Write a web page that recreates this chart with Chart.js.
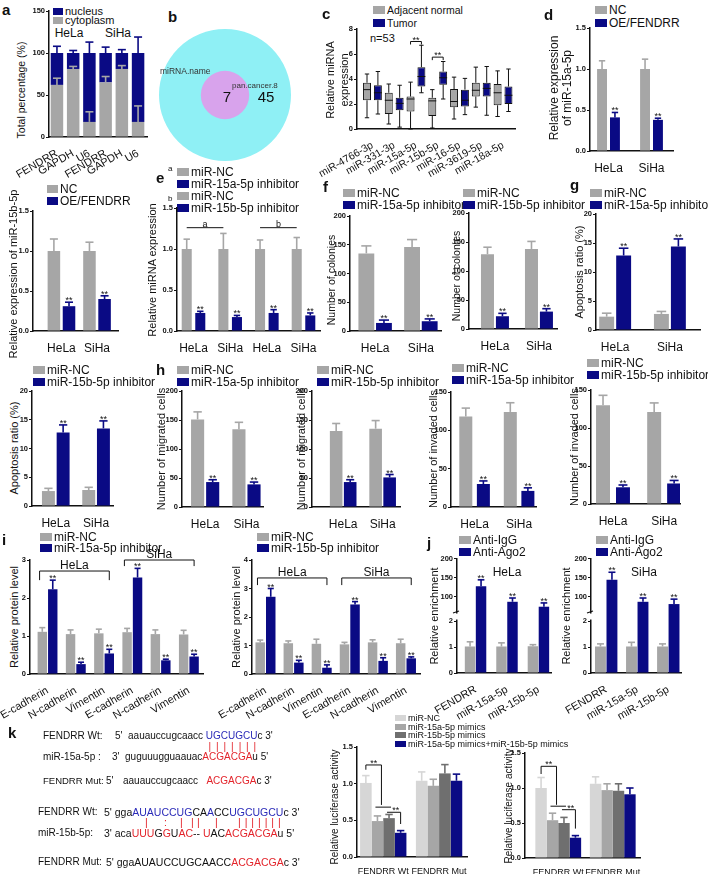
<!DOCTYPE html>
<html>
<head>
<meta charset="utf-8">
<script src="https://cdn.jsdelivr.net/npm/chart.js@4.4.1/dist/chart.umd.min.js"></script>
<style>
  html, body { margin: 0; padding: 0; background: #fff; }
  body { position: relative; width: 708px; height: 874px; overflow: hidden; font-family: 'Liberation Sans', Arial, sans-serif; color: #111; }
  canvas { position: absolute; }
  .t { position: absolute; white-space: nowrap; line-height: 1; }
  .lg { position: absolute; white-space: nowrap; display: flex; align-items: center; }
  .lg i { display: inline-block; margin-right: 2px; }
  .yt { position: absolute; white-space: nowrap; text-align: center; transform: translate(-50%, -50%) rotate(-90deg); }
  .pl { position: absolute; font-weight: bold; font-size: 15px; line-height: 1; }
  .b { color: #2a2ab8; }
  .r { color: #e3242b; }
</style>
</head>
<body>
<script>
// ---------- data ----------
// a: nuclear / cytoplasmic fractions
const aCats = ['FENDRR', 'GAPDH', 'U6', 'FENDRR', 'GAPDH', 'U6'];
const aCyto = [62, 81, 18, 65, 81, 18];
const aCytoErr = [8, 3, 12, 7, 4, 19];
const aNuc = [38, 19, 82, 35, 19, 82];
const aNucErr = [8, 3, 13, 7, 4, 19];

// b: venn counts (only miRNA.name, shared with pan.cancer.8)
const bSets = ['miRNA.name', 'pan.cancer.8'];
const bCounts = [45, 7];

// c: boxplots, n=53
const cCats = ['miR-4766-3p', 'miR-331-3p', 'miR-15a-5p', 'miR-15b-5p', 'miR-16-5p', 'miR-3619-5p', 'miR-18a-5p'];
const cNormMin = [0.9, 0.4, 0.0, 0.08, 0.8, 1.75, 1.0];
const cNormQ1 = [2.3, 1.2, 1.4, 1.05, 1.75, 2.6, 1.9];
const cNormMed = [3.15, 2.3, 2.4, 2.25, 2.2, 3.1, 2.9];
const cNormQ3 = [3.7, 2.9, 2.6, 2.5, 3.2, 3.7, 3.6];
const cNormMax = [4.4, 3.6, 3.75, 3.15, 4.15, 4.95, 4.65];
const cTumMin = [1.2, 0.15, 2.9, 2.4, 1.15, 1.1, 1.4];
const cTumQ1 = [2.3, 1.5, 3.4, 3.55, 1.8, 2.6, 2.0];
const cTumMed = [2.9, 2.05, 4.2, 4.1, 2.3, 3.25, 2.7];
const cTumQ3 = [3.5, 2.5, 4.95, 4.6, 3.15, 3.7, 3.4];
const cTumMax = [4.6, 3.5, 6.7, 5.4, 4.05, 5.0, 4.8];
const cSig = [[2, 7.0], [3, 5.75]];

const cellCats = ['HeLa', 'SiHa'];
// d: miR-15a-5p after FENDRR overexpression
const dNC = [1.0, 1.0], dNCErr = [0.1, 0.12];
const dOE = [0.41, 0.38], dOEErr = [0.06, 0.02];
// d (second): miR-15b-5p
const d2NC = [1.0, 1.0], d2NCErr = [0.15, 0.11];
const d2OE = [0.31, 0.4], d2OEErr = [0.05, 0.04];

// e
const eCats = ['HeLa', 'SiHa', 'HeLa', 'SiHa'];
const eNC = [1.0, 1.0, 1.0, 1.0], eNCErr = [0.12, 0.19, 0.11, 0.14];
const eInh = [0.22, 0.17, 0.22, 0.19], eInhErr = [0.02, 0.02, 0.04, 0.03];
const eMarks = [['a', 0, 1], ['b', 2, 3]];

// f: colonies
const f1NC = [135, 146], f1NCErr = [13, 13];
const f1Inh = [14, 17], f1InhErr = [5, 4];
const f2NC = [129, 138], f2NCErr = [12, 13];
const f2Inh = [22, 30], f2InhErr = [5, 5];

// g: apoptosis
const g1NC = [2.3, 2.77], g1NCErr = [0.6, 0.43];
const g1Inh = [12.85, 14.4], g1InhErr = [1.25, 1.3];
const g2NC = [2.6, 2.78], g2NCErr = [0.47, 0.47];
const g2Inh = [12.8, 13.5], g2InhErr = [1.3, 1.3];

// h: migration / invasion
const h1NC = [151, 134], h1NCErr = [13, 12];
const h1Inh = [43, 39], h1InhErr = [4, 4];
const h2NC = [131, 135], h2NCErr = [13, 14];
const h2Inh = [43, 51], h2InhErr = [4, 5];
const h3NC = [118, 124], h3NCErr = [11, 12];
const h3Inh = [30, 21], h3InhErr = [4, 4];
const h4NC = [130, 121], h4NCErr = [13, 12];
const h4Inh = [22, 27], h4InhErr = [3, 4];

// i: EMT markers
const iCats = ['E-cadherin', 'N-cadherin', 'Vimentin', 'E-cadherin', 'N-cadherin', 'Vimentin'];
const i1NC = [1.11, 1.05, 1.07, 1.1, 1.05, 1.04], i1NCErr = [0.11, 0.11, 0.11, 0.1, 0.11, 0.11];
const i1Inh = [2.23, 0.26, 0.54, 2.54, 0.36, 0.46], i1InhErr = [0.24, 0.05, 0.11, 0.24, 0.03, 0.06];
const i2NC = [1.11, 1.08, 1.06, 1.04, 1.11, 1.08], i2NCErr = [0.08, 0.08, 0.16, 0.07, 0.09, 0.14];
const i2Inh = [2.71, 0.4, 0.22, 2.44, 0.46, 0.55], i2InhErr = [0.29, 0.08, 0.1, 0.1, 0.11, 0.05];
const iBr1 = [{ name: 'HeLa', from: 0, to: 2, y: 2.71, drop: 2.47 }, { name: 'SiHa', from: 3, to: 5, y: 3.0, drop: 2.84 }];
const iBr2 = [{ name: 'HeLa', from: 0, to: 2, y: 3.37, drop: 3.12 }, { name: 'SiHa', from: 3, to: 5, y: 3.37, drop: 3.12 }];

// j: RIP
const jCats = ['FENDRR', 'miR-15a-5p', 'miR-15b-5p'];
const jTicks = [0, 1, 2, 100, 150, 200];
const j1IgG = [1.02, 1.02, 1.03], j1IgGErr = [0.18, 0.14, 0.06];
const j1Ago = [128, 87, 74], j1AgoErr = [17, 10, 10];
const j2IgG = [1.02, 1.02, 1.02], j2IgGErr = [0.1, 0.16, 0.1];
const j2Ago = [145, 87, 81], j2AgoErr = [20, 10, 13];

// k: luciferase
const kCats = ['FENDRR Wt', 'FENDRR Mut'];
const k1NC = [1.01, 1.04], k1NCErr = [0.1, 0.12];
const k1A = [0.49, 0.97], k1AErr = [0.07, 0.09];
const k1B = [0.53, 1.14], k1BErr = [0.05, 0.12];
const k1AB = [0.33, 1.04], k1ABErr = [0.03, 0.09];
const k2NC = [1.0, 1.06], k2NCErr = [0.15, 0.1];
const k2A = [0.54, 0.97], k2AErr = [0.1, 0.09];
const k2B = [0.5, 0.96], k2BErr = [0.08, 0.1];
const k2AB = [0.29, 0.91], k2ABErr = [0.03, 0.09];

// ---------- style ----------
const FONT = "'Liberation Sans', Arial, sans-serif";
const NAVY = '#0a0a84', GRAY = '#a6a6a6', LGRAY = '#d6d6d6', DGRAY = '#6f6f6f';
const BRK = { lo: 2, hi: 60, frac: 0.456, gap: 9 };   // broken axis in j
Chart.defaults.font.family = FONT;
Chart.defaults.color = '#111';

// ---------- html helpers ----------
function el(cls, css, html) {
  const d = document.createElement('div');
  d.className = cls;
  Object.assign(d.style, css);
  d.innerHTML = html;
  document.body.appendChild(d);
  return d;
}
function text(x, y, html, fs, css) {
  return el('t', Object.assign({ left: x + 'px', top: (y - fs / 2) + 'px', fontSize: fs + 'px' }, css || {}), html);
}
function ctext(x, y, html, fs) {
  return el('t', { left: x + 'px', top: y + 'px', fontSize: fs + 'px', transform: 'translate(-50%,-50%)' }, html);
}
function ytitle(x, y, html, fs, lh) {
  el('yt', { left: x + 'px', top: y + 'px', fontSize: fs + 'px', lineHeight: String(lh || 1.15) }, html);
}
function legend(x, y, items, fs, lh, sw, sh) {
  fs = fs || 12; lh = lh || 11.5; sw = sw || 12; sh = sh || 8;
  items.forEach(([label, color], k) => {
    el('lg', { left: x + 'px', top: (y + k * lh - lh / 2) + 'px', height: lh + 'px', fontSize: fs + 'px' },
      `<i style="width:${sw}px;height:${sh}px;background:${color}"></i>${label}`);
  });
}
function letter(x, y, s) { el('pl', { left: x + 'px', top: y + 'px' }, s); }

// ---------- canvas helpers ----------
function path(ctx, pts, color, w) {
  ctx.save();
  ctx.strokeStyle = color || '#111';
  ctx.lineWidth = w || 1;
  ctx.beginPath();
  pts.forEach(([x, y], i) => i ? ctx.lineTo(x, y) : ctx.moveTo(x, y));
  ctx.stroke();
  ctx.restore();
}
function label(ctx, s, x, y, fs, base) {
  ctx.save();
  ctx.fillStyle = '#111';
  ctx.font = fs + 'px ' + FONT;
  ctx.textAlign = 'center';
  ctx.textBaseline = base || 'alphabetic';
  ctx.fillText(s, x, y);
  ctx.restore();
}

// error bars (upwards only) and "**" marks
Chart.register({
  id: 'errBars',
  afterDatasetsDraw(chart) {
    const ctx = chart.ctx, ys = chart.scales.y;
    chart.data.datasets.forEach((ds, d) => {
      if (!ds.err) return;
      chart.getDatasetMeta(d).data.forEach((b, i) => {
        const top = ys.getPixelForValue(ys.getValueForPixel(b.y) + ds.err[i]);
        const cap = b.width * 0.32;
        path(ctx, [[b.x, b.y], [b.x, top]], ds.backgroundColor, 1.6);
        path(ctx, [[b.x - cap, top], [b.x + cap, top]], ds.backgroundColor, 1.6);
        if (ds.stars) label(ctx, '**', b.x, top + 1, 9);
      });
    });
  }
});

// y scale with a break (used by the RIP panels)
class BrokenScale extends Chart.LinearScale {
  static id = 'broken';
  static defaults = {};
  buildTicks() { return jTicks.map(v => ({ value: v })); }
  getPixelForValue(v) {
    const h = this.bottom - this.top, lowH = h * BRK.frac;
    if (v <= BRK.lo) return this.bottom - (v - this.min) / (BRK.lo - this.min) * lowH;
    if (v <= BRK.hi) return this.bottom - lowH - (v - BRK.lo) / (BRK.hi - BRK.lo) * BRK.gap;
    return this.bottom - lowH - BRK.gap - (v - BRK.hi) / (this.max - BRK.hi) * (h - lowH - BRK.gap);
  }
  getValueForPixel(p) {
    const h = this.bottom - this.top, lowH = h * BRK.frac, d = this.bottom - p;
    if (d <= lowH) return this.min + d / lowH * (BRK.lo - this.min);
    if (d <= lowH + BRK.gap) return BRK.lo + (d - lowH) / BRK.gap * (BRK.hi - BRK.lo);
    return BRK.hi + (d - lowH - BRK.gap) / (h - lowH - BRK.gap) * (this.max - BRK.hi);
  }
}
Chart.register(BrokenScale);

// one bar panel: box = canvas [left, top, w, h], area = plot area [x0, y0, x1, y1] in page pixels
function bars(o) {
  const [L, T, W, H] = o.box, [x0, y0, x1, y1] = o.area;
  const padL = x0 - L, padT = y0 - T, padR = L + W - x1, padB = T + H - y1;
  const cv = document.createElement('canvas');
  cv.width = W; cv.height = H;
  cv.style.left = L + 'px'; cv.style.top = T + 'px';
  document.body.appendChild(cv);
  const datasets = o.sets.map(s => ({
    data: s.data.map((v, i) => ({ x: i, y: v })),
    err: s.err, stars: s.stars,
    backgroundColor: s.color,
    borderColor: s.line || s.color, borderWidth: s.line ? 1 : 0, borderSkipped: false,
    barPercentage: o.bar, categoryPercentage: o.cat
  }));
  const y = o.y;
  return new Chart(cv, {
    type: 'bar',
    data: { datasets },
    options: {
      responsive: false, animation: false, events: [],
      layout: { padding: { left: 0, top: padT, right: padR, bottom: 0 } },
      plugins: { legend: { display: false }, tooltip: { enabled: false } },
      scales: {
        x: {
          type: 'linear', min: o.xr[0], max: o.xr[1], offset: false, stacked: !!o.stacked,
          grid: { display: false, offset: false },
          border: { color: '#111', width: 1.5 },
          ticks: {
            autoSkip: false, maxRotation: o.rot || 0, minRotation: o.rot || 0, padding: o.xpad ?? 2,
            font: { size: o.xfs || 11 }, color: '#111',
            callback: v => o.labels[v] ?? ''
          },
          afterBuildTicks: s => { s.ticks = o.labels.map((_, i) => ({ value: i })); },
          afterFit: s => { s.height = padB; s.paddingLeft = 0; s.paddingRight = 0; }
        },
        y: {
          type: y.type || 'linear', min: y.min, max: y.max, stacked: !!o.stacked,
          grid: { display: true, drawOnChartArea: false, drawTicks: true, tickLength: 3, color: '#111', lineWidth: 1 },
          border: { color: '#111', width: 1.5 },
          ticks: {
            stepSize: y.step, autoSkip: false, padding: 1,
            font: { size: 7.5, weight: 'bold' }, color: '#111',
            callback: v => Number(v).toFixed(y.dec || 0)
          },
          afterFit: s => { s.width = padL; s.paddingTop = 0; s.paddingBottom = 0; }
        }
      }
    },
    plugins: o.deco ? [{ id: 'deco', afterDatasetsDraw: o.deco }] : []
  });
}

// ---------- decorations ----------
function cDeco(chart) {
  const ctx = chart.ctx, ys = chart.scales.y, p = v => ys.getPixelForValue(v);
  const stats = [[cNormMin, cNormMed, cNormMax, cNormQ1, cNormQ3], [cTumMin, cTumMed, cTumMax, cTumQ1, cTumQ3]];
  stats.forEach(([mn, md, mx, q1, q3], d) => {
    chart.getDatasetMeta(d).data.forEach((b, i) => {
      const hw = b.width / 2;
      path(ctx, [[b.x, p(q3[i])], [b.x, p(mx[i])]]);
      path(ctx, [[b.x, p(q1[i])], [b.x, p(mn[i])]]);
      path(ctx, [[b.x - hw * 0.55, p(mx[i])], [b.x + hw * 0.55, p(mx[i])]]);
      path(ctx, [[b.x - hw * 0.55, p(mn[i])], [b.x + hw * 0.55, p(mn[i])]]);
      path(ctx, [[b.x - hw, p(md[i])], [b.x + hw, p(md[i])]]);
    });
  });
  const m0 = chart.getDatasetMeta(0).data, m1 = chart.getDatasetMeta(1).data;
  cSig.forEach(([i, v]) => {
    const py = p(v);
    path(ctx, [[m0[i].x, py + 3], [m0[i].x, py], [m1[i].x, py], [m1[i].x, py + 3]]);
    label(ctx, '**', (m0[i].x + m1[i].x) / 2, py + 1, 9);
  });
}
function eDeco(chart) {
  const ctx = chart.ctx, py = chart.scales.y.getPixelForValue(1.26);
  const m0 = chart.getDatasetMeta(0).data;
  eMarks.forEach(([s, a, b]) => {
    path(ctx, [[m0[a].x, py], [m0[b].x, py]]);
    label(ctx, s, (m0[a].x + m0[b].x) / 2, py - 1, 9);
  });
}
function bracketDeco(list) {
  return chart => {
    const ctx = chart.ctx, ys = chart.scales.y;
    const m0 = chart.getDatasetMeta(0).data, m1 = chart.getDatasetMeta(1).data;
    list.forEach(b => {
      const xa = m0[b.from].x - m0[b.from].width / 2 + 2, xb = m1[b.to].x;
      const py = ys.getPixelForValue(b.y), pd = ys.getPixelForValue(b.drop);
      path(ctx, [[xa, pd], [xa, py], [xb, py], [xb, pd]], '#111', 1);
      label(ctx, b.name, (xa + xb) / 2, py - 2, 12);
    });
  };
}
function jDeco(chart) {
  const ctx = chart.ctx, ys = chart.scales.y, x = chart.chartArea.left;
  const pLo = ys.getPixelForValue(BRK.lo), pHi = ys.getPixelForValue(BRK.hi);
  ctx.save();
  ctx.fillStyle = '#fff';
  ctx.fillRect(x - 1.5, pHi + 1.5, 3, pLo - pHi - 3);
  ctx.restore();
  path(ctx, [[x - 4, pHi + 1], [x + 2, pHi - 1]], '#111', 1.2);
}
function kDeco(lv) {
  return chart => {
    const ctx = chart.ctx, p = v => chart.scales.y.getPixelForValue(v);
    const bx = [0, 1, 2, 3].map(d => chart.getDatasetMeta(d).data[0].x);
    path(ctx, [[bx[0], p(lv.a0)], [bx[0], p(lv.a)], [bx[1] + 4, p(lv.a)], [bx[1] + 4, p(lv.a1)]]);
    label(ctx, '**', (bx[0] + bx[1] + 4) / 2, p(lv.a) + 1, 9);
    path(ctx, [[bx[1] - 2, p(lv.b)], [bx[2] + 2, p(lv.b)]]);
    path(ctx, [[bx[2] - 2, p(lv.c)], [bx[3], p(lv.c)], [bx[3], p(lv.c1)]]);
    label(ctx, '**', (bx[2] + bx[3]) / 2 + 1, p(lv.c) + 1, 9);
  };
}

// ---------- panel a ----------
letter(2, 2, 'a');
legend(53, 11, [['nucleus', NAVY], ['cytoplasm', GRAY]], 11, 9, 10, 7);
ctext(69, 33, 'HeLa', 12);
ctext(118, 33, 'SiHa', 12);
ytitle(21, 90, 'Total percentage (%)', 10.5);
bars({ box: [0, 0, 155, 200], area: [49, 11, 147, 137], labels: aCats, rot: 30, xfs: 11,
  y: { min: 0, max: 150, step: 50 }, xr: [-0.49, 5.55], cat: 1, bar: 0.77, stacked: true,
  sets: [{ data: aCyto, err: aCytoErr, color: GRAY }, { data: aNuc, err: aNucErr, color: NAVY }] });

// ---------- panel b (venn drawn as bubbles) ----------
letter(168, 9, 'b');
(function () {
  const cv = document.createElement('canvas');
  cv.width = 150; cv.height = 140;
  cv.style.left = '150px'; cv.style.top = '25px';
  document.body.appendChild(cv);
  const total = bCounts[0] + bCounts[1], rMax = 66;
  new Chart(cv, {
    type: 'bubble',
    data: { datasets: [
      { label: bSets[0], data: [{ x: 0, y: 0, r: rMax }], backgroundColor: '#8ff0f5', borderWidth: 0, clip: false, order: 2 },
      { label: bSets[1], data: [{ x: 0, y: 0, r: rMax * Math.sqrt(bCounts[1] / total) }], backgroundColor: '#d8a3ec', borderWidth: 0, clip: false, order: 1 }
    ] },
    options: {
      responsive: false, animation: false, events: [],
      layout: { padding: 0, autoPadding: false },
      plugins: { legend: { display: false }, tooltip: { enabled: false } },
      scales: { x: { display: false, min: -1, max: 1 }, y: { display: false, min: -1, max: 1 } }
    }
  });
})();
text(160, 71, bSets[0], 8.5, { color: '#333' });
text(232, 86, bSets[1], 8, { color: '#333' });
ctext(227, 96, String(bCounts[1]), 15);
ctext(266, 96, String(bCounts[0]), 15);

// ---------- panel c ----------
letter(322, 6, 'c');
legend(373, 10, [['Adjacent normal', GRAY], ['Tumor', NAVY]], 10.5, 13, 12, 8);
text(370, 38, 'n=53', 11);
ytitle(337, 80, 'Relative miRNA<br>expression', 11, 1.3);
bars({ box: [290, 0, 230, 200], area: [357, 29, 515, 129], labels: cCats, rot: 30, xfs: 10.5,
  y: { min: 0, max: 8, step: 2 }, xr: [-0.71, 6.55], cat: 1, bar: 0.73,
  sets: [{ data: cNormQ1.map((q, i) => [q, cNormQ3[i]]), color: GRAY, line: '#111' },
         { data: cTumQ1.map((q, i) => [q, cTumQ3[i]]), color: NAVY, line: '#111' }],
  deco: cDeco });

// ---------- panel d ----------
letter(544, 7, 'd');
legend(595, 10, [['NC', GRAY], ['OE/FENDRR', NAVY]], 12, 13, 12, 8);
ytitle(561, 88, 'Relative expression<br>of miR-15a-5p', 12, 1.1);
bars({ box: [550, 0, 158, 180], area: [590, 28, 673, 151], labels: cellCats, xfs: 12,
  y: { min: 0, max: 1.5, step: 0.5, dec: 1 }, xr: [-0.43, 1.5], cat: 0.6, bar: 0.77,
  sets: [{ data: dNC, err: dNCErr, color: GRAY }, { data: dOE, err: dOEErr, color: NAVY, stars: true }] });

legend(47, 189, [['NC', GRAY], ['OE/FENDRR', NAVY]], 12, 12, 11, 8);
ytitle(13, 274, 'Relative expression of miR-15b-5p', 11);
bars({ box: [0, 195, 130, 175], area: [33, 211, 118, 331], labels: cellCats, xfs: 12,
  y: { min: 0, max: 1.5, step: 0.5, dec: 1 }, xr: [-0.8, 1.59], cat: 0.85, bar: 0.83,
  sets: [{ data: d2NC, err: d2NCErr, color: GRAY }, { data: d2OE, err: d2OEErr, color: NAVY, stars: true }] });

// ---------- panel e ----------
letter(156, 170, 'e');
legend(177, 172, [['miR-NC', GRAY], ['miR-15a-5p inhibitor', NAVY], ['miR-NC', GRAY], ['miR-15b-5p inhibitor', NAVY]], 12, 12, 12, 8);
text(168, 169, 'a', 8);
text(168, 199, 'b', 8);
ytitle(152, 270, 'Relative miRNA expression', 11);
bars({ box: [150, 195, 175, 175], area: [177, 208, 320, 331], labels: eCats, xfs: 12,
  y: { min: 0, max: 1.5, step: 0.5, dec: 1 }, xr: [-0.45, 3.45], cat: 0.74, bar: 0.74,
  sets: [{ data: eNC, err: eNCErr, color: GRAY }, { data: eInh, err: eInhErr, color: NAVY, stars: true }],
  deco: eDeco });

// ---------- panel f ----------
letter(323, 179, 'f');
legend(343, 193, [['miR-NC', GRAY], ['miR-15a-5p inhibitor', NAVY]]);
ytitle(331, 280, 'Number of colonies', 10.5);
bars({ box: [320, 200, 125, 170], area: [350, 216, 441, 331], labels: cellCats, xfs: 12,
  y: { min: 0, max: 200, step: 50 }, xr: [-0.55, 1.44], cat: 0.77, bar: 0.9,
  sets: [{ data: f1NC, err: f1NCErr, color: GRAY }, { data: f1Inh, err: f1InhErr, color: NAVY, stars: true }] });

legend(463, 193, [['miR-NC', GRAY], ['miR-15b-5p inhibitor', NAVY]]);
ytitle(456, 276, 'Number of colonies', 10.5);
bars({ box: [440, 200, 122, 170], area: [469, 213, 557, 329], labels: cellCats, xfs: 12,
  y: { min: 0, max: 200, step: 50 }, xr: [-0.59, 1.41], cat: 0.68, bar: 0.87,
  sets: [{ data: f2NC, err: f2NCErr, color: GRAY }, { data: f2Inh, err: f2InhErr, color: NAVY, stars: true }] });

// ---------- panel g ----------
letter(570, 177, 'g');
legend(590, 193, [['miR-NC', GRAY], ['miR-15a-5p inhibitor', NAVY]]);
ytitle(579, 272, 'Apoptosis ratio (%)', 11);
bars({ box: [565, 200, 143, 170], area: [596, 214, 700, 330], labels: cellCats, xfs: 12,
  y: { min: 0, max: 20, step: 5 }, xr: [-0.35, 1.55], cat: 0.62, bar: 0.88,
  sets: [{ data: g1NC, err: g1NCErr, color: GRAY }, { data: g1Inh, err: g1InhErr, color: NAVY, stars: true }] });

legend(33, 370, [['miR-NC', GRAY], ['miR-15b-5p inhibitor', NAVY]]);
ytitle(14, 448, 'Apoptosis ratio (%)', 11);
bars({ box: [0, 380, 120, 160], area: [32, 391, 113, 506], labels: cellCats, xfs: 12,
  y: { min: 0, max: 20, step: 5 }, xr: [-0.59, 1.42], cat: 0.73, bar: 0.88,
  sets: [{ data: g2NC, err: g2NCErr, color: GRAY }, { data: g2Inh, err: g2InhErr, color: NAVY, stars: true }] });

// ---------- panel h ----------
letter(156, 362, 'h');
legend(177, 370, [['miR-NC', GRAY], ['miR-15a-5p inhibitor', NAVY]]);
ytitle(161, 449, 'Number of migrated cells', 11);
bars({ box: [145, 380, 125, 160], area: [182, 391, 263, 507], labels: cellCats, xfs: 12,
  y: { min: 0, max: 200, step: 50 }, xr: [-0.56, 1.4], cat: 0.73, bar: 0.87,
  sets: [{ data: h1NC, err: h1NCErr, color: GRAY }, { data: h1Inh, err: h1InhErr, color: NAVY, stars: true }] });

legend(317, 370, [['miR-NC', GRAY], ['miR-15b-5p inhibitor', NAVY]]);
ytitle(301, 449, 'Number of migrated cells', 11);
bars({ box: [285, 380, 120, 160], area: [312, 391, 400, 507], labels: cellCats, xfs: 12,
  y: { min: 0, max: 200, step: 50 }, xr: [-0.79, 1.44], cat: 0.71, bar: 0.9,
  sets: [{ data: h2NC, err: h2NCErr, color: GRAY }, { data: h2Inh, err: h2InhErr, color: NAVY, stars: true }] });

legend(452, 368, [['miR-NC', GRAY], ['miR-15a-5p inhibitor', NAVY]]);
ytitle(433, 449, 'Number of invaded cells', 11);
bars({ box: [425, 380, 115, 160], area: [451, 392, 536, 507], labels: cellCats, xfs: 12,
  y: { min: 0, max: 150, step: 50 }, xr: [-0.53, 1.38], cat: 0.79, bar: 0.74,
  sets: [{ data: h3NC, err: h3NCErr, color: GRAY }, { data: h3Inh, err: h3InhErr, color: NAVY, stars: true }] });

legend(587, 363, [['miR-NC', GRAY], ['miR-15b-5p inhibitor', NAVY]]);
ytitle(574, 447, 'Number of invaded cells', 11);
bars({ box: [565, 380, 120, 160], area: [591, 390, 680, 504], labels: cellCats, xfs: 12,
  y: { min: 0, max: 150, step: 50 }, xr: [-0.43, 1.31], cat: 0.78, bar: 0.7,
  sets: [{ data: h4NC, err: h4NCErr, color: GRAY }, { data: h4Inh, err: h4InhErr, color: NAVY, stars: true }] });

// ---------- panel i ----------
letter(2, 532, 'i');
legend(40, 537, [['miR-NC', GRAY], ['miR-15a-5p inhibitor', NAVY]], 12, 10.5);
ytitle(14, 617, 'Relative protein level', 11);
bars({ box: [0, 545, 215, 185], area: [30, 560, 203, 674], labels: iCats, rot: 30, xfs: 11,
  y: { min: 0, max: 3, step: 1 }, xr: [-0.62, 5.5], cat: 0.74, bar: 0.9,
  sets: [{ data: i1NC, err: i1NCErr, color: GRAY }, { data: i1Inh, err: i1InhErr, color: NAVY, stars: true }],
  deco: bracketDeco(iBr1) });

legend(257, 537, [['miR-NC', GRAY], ['miR-15b-5p inhibitor', NAVY]], 12, 11);
ytitle(236, 617, 'Relative protein level', 11);
bars({ box: [215, 545, 210, 185], area: [252, 560, 420, 674], labels: iCats, rot: 30, xfs: 11,
  y: { min: 0, max: 4, step: 1 }, xr: [-0.48, 5.5], cat: 0.75, bar: 0.9,
  sets: [{ data: i2NC, err: i2NCErr, color: GRAY }, { data: i2Inh, err: i2InhErr, color: NAVY, stars: true }],
  deco: bracketDeco(iBr2) });

// ---------- panel j ----------
letter(427, 535, 'j');
legend(459, 540, [['Anti-IgG', GRAY], ['Anti-Ago2', NAVY]], 12, 12);
ytitle(434, 616, 'Relative enrichment', 11);
ctext(507, 572, 'HeLa', 12);
bars({ box: [425, 550, 130, 175], area: [457, 559, 551, 673], labels: jCats, rot: 30, xfs: 11,
  y: { type: 'broken', min: 0, max: 200 }, xr: [-0.59, 2.4], cat: 0.7, bar: 0.95,
  sets: [{ data: j1IgG, err: j1IgGErr, color: GRAY }, { data: j1Ago, err: j1AgoErr, color: NAVY, stars: true }],
  deco: jDeco });

legend(596, 540, [['Anti-IgG', GRAY], ['Anti-Ago2', NAVY]], 12, 12);
ytitle(566, 616, 'Relative enrichment', 11);
ctext(644, 572, 'SiHa', 12);
bars({ box: [560, 550, 130, 175], area: [591, 559, 681, 673], labels: jCats, rot: 30, xfs: 11,
  y: { type: 'broken', min: 0, max: 200 }, xr: [-0.49, 2.41], cat: 0.74, bar: 0.95,
  sets: [{ data: j2IgG, err: j2IgGErr, color: GRAY }, { data: j2Ago, err: j2AgoErr, color: NAVY, stars: true }],
  deco: jDeco });

// ---------- panel k ----------
letter(8, 725, 'k');
text(43, 736, 'FENDRR Wt:', 10);
text(115, 736, "5'&nbsp; aauauccugcaacc <span class='b'>UGCUGCU</span>c 3'", 10);
[209.6, 217, 224.6, 232, 239.8, 247, 254.4].forEach(x => text(x - 1, 747, '|', 10, { color: '#e3242b' }));
text(43, 757, 'miR-15a-5p :', 10);
text(112, 757, "3'&nbsp; guguuugguaauac<span class='r'>ACGACGA</span>u 5'", 10);
text(43, 781, 'FENDRR Mut:', 9.5);
text(106, 781, "5'", 10);
text(123, 781, "aauauccugcaacc&nbsp;&nbsp;&nbsp;<span class='r'>ACGACGA</span>c 3'", 10);

text(38, 812, 'FENDRR Wt:', 10);
text(104, 812, "5' gga<span class='b'>AUAUCCUG</span>CA<span class='b'>A</span>CC<span class='b'>UGCUGCU</span>c 3'", 10.5);
[[146, '|'], [165, ':'], [181, '|'], [192, '|'], [198, '|'], [216, '|'],
 [239, '|'], [245.7, '|'], [252.3, '|'], [259, '|'], [265.7, '|'], [272.3, '|'], [279, '|']]
  .forEach(([x, s]) => text(x - 1, 822, s, 10.5, { color: '#e3242b' }));
text(38, 833, 'miR-15b-5p:', 10);
text(104, 833, "3' aca<span class='r'>UUU</span>G<span class='r'>G</span>U<span class='r'>AC</span>-- <span class='r'>U</span>AC<span class='r'>ACGACGA</span>u 5'", 10.5);
text(38, 862, 'FENDRR Mut:', 10);
text(106, 862, "5' ggaAUAUCCUGCAACC<span class='r'>ACGACGA</span>c 3'", 10.5);

legend(395, 718, [['miR-NC', LGRAY], ['miR-15a-5p mimics', GRAY], ['miR-15b-5p mimics', DGRAY],
  ['miR-15a-5p mimics+miR-15b-5p mimics', NAVY]], 9, 8.7, 11, 6);
ytitle(335, 807, 'Relative luciferase activity', 10);
bars({ box: [330, 738, 145, 136], area: [357, 747, 467, 857], labels: kCats, xfs: 9, xpad: 1,
  y: { min: 0, max: 1.5, step: 0.5, dec: 1 }, xr: [-0.47, 1.5], cat: 0.83, bar: 1,
  sets: [{ data: k1NC, err: k1NCErr, color: LGRAY }, { data: k1A, err: k1AErr, color: GRAY },
         { data: k1B, err: k1BErr, color: DGRAY }, { data: k1AB, err: k1ABErr, color: NAVY }],
  deco: kDeco({ a0: 1.19, a: 1.255, a1: 0.71, b: 0.68, c: 0.61, c1: 0.45 }) });

ytitle(509, 806, 'Relative luciferase activity', 10);
bars({ box: [495, 738, 155, 136], area: [525, 753, 640, 858], labels: kCats, xfs: 9, xpad: 1,
  y: { min: 0, max: 1.5, step: 0.5, dec: 1 }, xr: [-0.61, 1.5], cat: 0.84, bar: 1,
  sets: [{ data: k2NC, err: k2NCErr, color: LGRAY }, { data: k2A, err: k2AErr, color: GRAY },
         { data: k2B, err: k2BErr, color: DGRAY }, { data: k2AB, err: k2ABErr, color: NAVY }],
  deco: kDeco({ a0: 1.2, a: 1.31, a1: 0.76, b: 0.74, c: 0.69, c1: 0.42 }) });
</script>
</body>
</html>
